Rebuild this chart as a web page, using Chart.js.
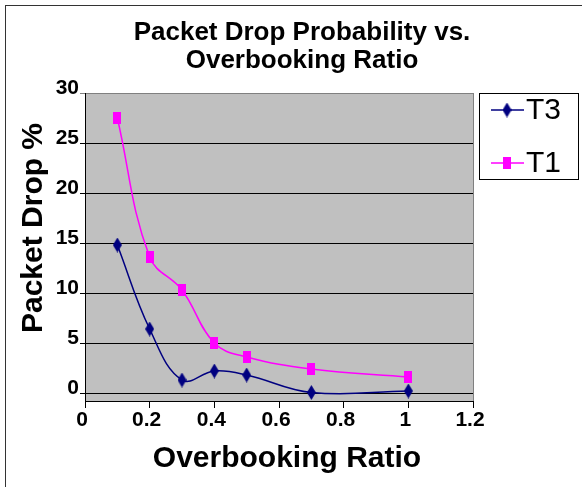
<!DOCTYPE html>
<html>
<head>
<meta charset="utf-8">
<script src="https://cdn.jsdelivr.net/npm/chart.js@4.4.1/dist/chart.umd.min.js"></script>
<style>
  html, body { margin: 0; padding: 0; background: #ffffff; }
  canvas { display: block; }
</style>
</head>
<body>
<canvas id="dropChart" width="582" height="487"></canvas>
<script>
/* Packet drop vs overbooking ratio, Excel-style line chart */

const ratios = [0.1, 0.2, 0.3, 0.4, 0.5, 0.7, 1.0];
const t3Drop = [14.8, 6.4, 1.3, 2.2, 1.8, 0.05, 0.2];
const t1Drop = [27.5, 13.6, 10.3, 5.0, 3.6, 2.4, 1.6];
const seriesNames = ['T3', 'T1'];

const xTicks = [0, 0.2, 0.4, 0.6, 0.8, 1, 1.2];
const yTicks = [0, 5, 10, 15, 20, 25, 30];

const titleLines = ['Packet Drop Probability vs.', 'Overbooking Ratio'];
const xTitle = 'Overbooking Ratio';
const yTitle = 'Packet Drop %';

const FONT = "'Liberation Sans', Arial, sans-serif";

/* tall narrow markers like the Excel ones */
function makeMarker(shape, w, h, color) {
    const c = document.createElement('canvas');
    c.width = w;
    c.height = h;
    const g = c.getContext('2d');
    g.fillStyle = color;
    if (shape === 'diamond') {
        g.beginPath();
        g.moveTo(w / 2, 0);
        g.lineTo(w, h / 2);
        g.lineTo(w / 2, h);
        g.lineTo(0, h / 2);
        g.closePath();
        g.fill();
    } else {
        g.fillRect(0, 0, w, h);
    }
    return c;
}

const diamond = makeMarker('diamond', 9, 15, '#000080');
const square = makeMarker('rect', 8, 12, '#ff00ff');

const toPoints = ys => ratios.map((x, i) => ({ x: x, y: ys[i] }));

const decorPlugin = {
    id: 'decor',
    beforeDraw(chart) {
        const { ctx, chartArea: a } = chart;
        ctx.save();
        ctx.fillStyle = '#ffffff';
        ctx.fillRect(0, 0, chart.width, chart.height);
        ctx.strokeStyle = '#333333';
        ctx.lineWidth = 1;
        ctx.strokeRect(5.5, 5.5, 700, 700);
        ctx.fillStyle = '#c0c0c0';
        ctx.fillRect(a.left, a.top, a.right - a.left, a.bottom - a.top);
        ctx.restore();
    },
    beforeDatasetsDraw(chart) {
        const { ctx, chartArea: a } = chart;
        ctx.save();
        ctx.strokeStyle = '#808080';
        ctx.lineWidth = 1;
        ctx.beginPath();
        ctx.moveTo(Math.round(a.right) + 0.5, a.top);
        ctx.lineTo(Math.round(a.right) + 0.5, a.bottom);
        ctx.stroke();
        ctx.restore();
    },
    afterDraw(chart) {
        const ctx = chart.ctx;
        ctx.save();
        ctx.fillStyle = '#000000';
        ctx.textAlign = 'center';
        ctx.textBaseline = 'alphabetic';

        // chart title
        ctx.font = 'bold 26px ' + FONT;
        ctx.fillText(titleLines[0], 302, 40);
        ctx.fillText(titleLines[1], 302, 68);

        // axis titles
        ctx.font = 'bold 30px ' + FONT;
        ctx.fillText(xTitle, 287, 467);
        ctx.save();
        ctx.translate(42, 228);
        ctx.rotate(-Math.PI / 2);
        ctx.fillText(yTitle, 0, 0);
        ctx.restore();

        // legend box
        ctx.fillStyle = '#ffffff';
        ctx.fillRect(479.5, 93.5, 99, 86);
        ctx.strokeStyle = '#000000';
        ctx.lineWidth = 1;
        ctx.strokeRect(479.5, 93.5, 99, 86);

        const rows = [110, 163];
        chart.data.datasets.forEach((ds, i) => {
            const y = rows[i];
            ctx.strokeStyle = ds.borderColor;
            ctx.lineWidth = 1.5;
            ctx.beginPath();
            ctx.moveTo(491, y);
            ctx.lineTo(524, y);
            ctx.stroke();
            const img = ds.pointStyle;
            ctx.drawImage(img, 507 - img.width / 2, y - img.height / 2);
            ctx.fillStyle = '#000000';
            ctx.textAlign = 'left';
            ctx.textBaseline = 'middle';
            ctx.font = '30px ' + FONT;
            ctx.fillText(ds.label, 526, y + 1);
        });
        ctx.restore();
    }
};

const ctx = document.getElementById('dropChart').getContext('2d');

new Chart(ctx, {
    type: 'line',
    data: {
        datasets: [
            {
                label: seriesNames[0],
                data: toPoints(t3Drop),
                borderColor: '#000080',
                borderWidth: 1.5,
                pointStyle: diamond,
                tension: 0.4,
                fill: false
            },
            {
                label: seriesNames[1],
                data: toPoints(t1Drop),
                borderColor: '#ff00ff',
                borderWidth: 1.5,
                pointStyle: square,
                tension: 0.4,
                fill: false
            }
        ]
    },
    options: {
        responsive: false,
        animation: false,
        devicePixelRatio: 1,
        layout: { padding: { top: 93, right: 109, left: 0, bottom: 0 } },
        plugins: {
            legend: { display: false },
            title: { display: false },
            tooltip: { enabled: false }
        },
        scales: {
            x: {
                type: 'linear',
                min: 0,
                max: 1.2,
                afterFit: s => { s.height = 86; },
                afterBuildTicks: s => { s.ticks = xTicks.map(v => ({ value: v })); },
                grid: { drawOnChartArea: false, drawTicks: true, tickLength: 7, color: '#000000' },
                border: { color: '#000000', width: 1 },
                ticks: {
                    color: '#000000',
                    padding: 0,
                    labelOffset: -3,
                    maxRotation: 0,
                    font: { family: FONT, size: 21, weight: 'bold' },
                    callback: v => String(v)
                }
            },
            y: {
                type: 'linear',
                min: -0.8,
                max: 30,
                afterFit: s => { s.width = 85; },
                afterBuildTicks: s => { s.ticks = yTicks.map(v => ({ value: v })); },
                grid: {
                    tickLength: 5,
                    color: c => (c.tick && c.tick.value === 30 ? '#808080' : '#000000')
                },
                border: { color: '#000000', width: 1 },
                ticks: {
                    color: '#000000',
                    padding: 1,
                    labelOffset: -5,
                    font: { family: FONT, size: 21, weight: 'bold' },
                    callback: v => String(v)
                }
            }
        }
    },
    plugins: [decorPlugin]
});
</script>
</body>
</html>
